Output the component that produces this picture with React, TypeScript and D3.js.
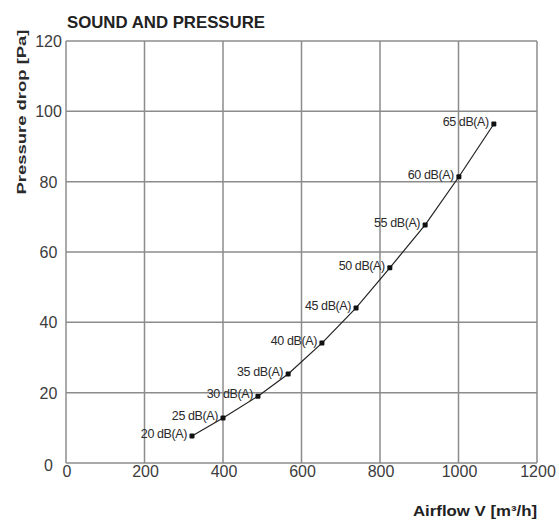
import React from "react";
import * as d3 from "d3";

const airflow = [321, 400, 489, 566, 652, 739, 825, 915, 1001, 1090];
const pressure = [7.7, 12.8, 19.0, 25.3, 34.1, 44.1, 55.5, 67.7, 81.4, 96.4];
const soundLabels = ["20 dB(A)", "25 dB(A)", "30 dB(A)", "35 dB(A)", "40 dB(A)", "45 dB(A)", "50 dB(A)", "55 dB(A)", "60 dB(A)", "65 dB(A)"];
const xTicks = [0, 200, 400, 600, 800, 1000, 1200];
const yTicks = [0, 20, 40, 60, 80, 100, 120];

const FONT = "'Liberation Sans', Arial, sans-serif";

export default function App() {
  const x = d3.scaleLinear().domain([0, 1200]).range([66, 537]);
  const y = d3.scaleLinear().domain([0, 120]).range([463, 41]);
  const pts = airflow.map((a, i) => [x(a), y(pressure[i])] as [number, number]);
  const line = d3.line<[number, number]>().curve(d3.curveLinear)(pts) || "";
  const grid = "#8c8c8c";
  return (
    <svg width={559} height={522} style={{ position: "absolute", left: 0, top: 0, background: "#fff" }} fontFamily={FONT}>
      <rect width={559} height={522} fill="#fff" />
      {xTicks.map((t) => (
        <line key={"vx" + t} x1={x(t)} x2={x(t)} y1={y(120)} y2={y(0)} stroke={grid} strokeWidth={1.5} />
      ))}
      {yTicks.map((t) => (
        <line key={"hy" + t} x1={x(0)} x2={x(1200)} y1={y(t)} y2={y(t)} stroke={grid} strokeWidth={1.5} />
      ))}
      {xTicks.map((t) => (
        <text key={"xt" + t} x={x(t) + 1} y={477} textAnchor="middle" fontSize={16} fill="#3c3c3c">
          {t}
        </text>
      ))}
      {yTicks.map((t) => (
        <text key={"yt" + t} x={48.5} y={y(t) + (t === 0 ? 8 : 6)} textAnchor="middle" fontSize={16} fill="#3c3c3c">
          {t}
        </text>
      ))}
      <path d={line} fill="none" stroke="#222" strokeWidth={1.2} />
      {pts.map((p, i) => (
        <g key={"pt" + i}>
          <rect x={p[0] - 2.5} y={p[1] - 2.5} width={5} height={5} rx={1} fill="#111" />
          <text x={p[0] - 5} y={p[1] + 2} textAnchor="end" fontSize={12.5} fill="#2a2a2a" letterSpacing={-0.4}>
            {soundLabels[i]}
          </text>
        </g>
      ))}
      <text x={67} y={28} fontSize={16.5} fontWeight="bold" fill="#222" textLength={198} lengthAdjust="spacingAndGlyphs">
        SOUND AND PRESSURE
      </text>
      <text x={537} y={516} textAnchor="end" fontSize={15} fontWeight="bold" fill="#222" textLength={124} lengthAdjust="spacingAndGlyphs">
        Airflow V [m³/h]
      </text>
      <text
        transform="translate(26,112) rotate(-90)"
        textAnchor="middle"
        fontSize={13.5}
        fontWeight="bold"
        fill="#2a2a2a"
        textLength={165}
        lengthAdjust="spacingAndGlyphs"
      >
        Pressure drop [Pa]
      </text>
    </svg>
  );
}
